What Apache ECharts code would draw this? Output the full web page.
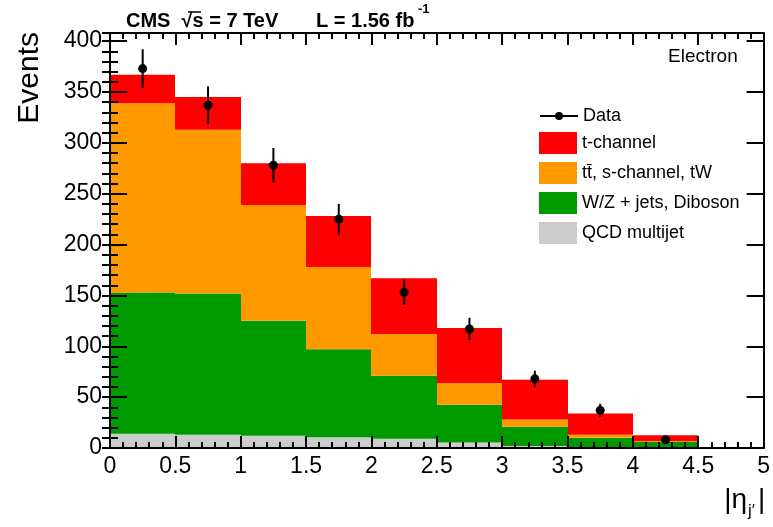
<!DOCTYPE html>
<html><head><meta charset="utf-8">
<script src="https://cdn.jsdelivr.net/npm/echarts@6/dist/echarts.min.js"></script>
<style>html,body{margin:0;padding:0;background:#fff}#c{width:773px;height:527px}</style>
</head><body><div id="c"></div>
<script>
// ---- data ----
const binEdges = [0, 0.5, 1, 1.5, 2, 2.5, 3, 3.5, 4, 4.5, 5];
const qcdMultijet = [14, 13, 12, 10.5, 9, 5.5, 2, 1, 0.5, 0];
const wzJetsDiboson = [139, 139, 113, 86.5, 62, 37, 19, 9, 5.5, 0];
const ttbarSchanTW = [186, 161, 114, 81, 41, 21.5, 7, 3, 1, 0];
const tChannel = [28, 32, 41, 50, 55, 54, 39, 21, 5.5, 0];
const dataX = [0.25, 0.75, 1.25, 1.75, 2.25, 2.75, 3.25, 3.75, 4.25];
const dataY = [373, 337, 278, 225, 153, 117, 68, 37, 8];
const dataErr = [19, 18.5, 17, 15, 12.5, 11, 8, 6.5, 3];
const seriesNames = ['QCD multijet', 'W/Z + jets, Diboson', 't\u0074\u0304, s-channel, tW', 't-channel'];
const seriesColors = ['#cccccc', '#009900', '#ff9900', '#ff0000'];
const legendOrder = ['t-channel', 't\u0074\u0304, s-channel, tW', 'W/Z + jets, Diboson', 'QCD multijet'];

const FONT = "'Liberation Sans', Arial, Helvetica, sans-serif";
const chart = echarts.init(document.getElementById('c'), null, {renderer: 'canvas'});

const components = [qcdMultijet, wzJetsDiboson, ttbarSchanTW, tChannel];
const cum = new Array(binEdges.length - 1).fill(0);
const stackSeries = components.map((vals, k) => {
  const d = vals.map((v, i) => {
    const bottom = cum[i];
    cum[i] += v;
    return [binEdges[i], binEdges[i + 1], bottom, cum[i]];
  });
  return {
    type: 'custom', name: seriesNames[k], z: 2 + k * 0.01,
    itemStyle: {color: seriesColors[k]},
    encode: {x: [0, 1], y: [2, 3]},
    renderItem: function (params, api) {
      if (api.value(3) - api.value(2) <= 0) return null;
      const p0 = api.coord([api.value(0), api.value(3)]);
      const p1 = api.coord([api.value(1), api.value(2)]);
      const x0 = Math.round(p0[0]), x1 = Math.round(p1[0]);
      return {type: 'rect', shape: {x: x0, y: p0[1], width: x1 - x0, height: p1[1] - p0[1]},
              style: {fill: seriesColors[k]}};
    },
    data: d
  };
});

const errSeries = {
  type: 'custom', name: 'DataErr', z: 5,
  encode: {x: 0, y: 1},
  renderItem: function (params, api) {
    const x = api.value(0), y = api.value(1), e = api.value(2);
    const a = api.coord([x, y - e]);
    const b = api.coord([x, y + e]);
    return {type: 'line', shape: {x1: a[0], y1: a[1], x2: b[0], y2: b[1]},
            style: {stroke: '#000', lineWidth: 2}};
  },
  data: dataX.map((x, i) => [x, dataY[i], dataErr[i]])
};

const dataSeries = {
  type: 'line', name: 'Data', z: 6,
  symbol: 'circle', symbolSize: 9,
  itemStyle: {color: '#000'},
  lineStyle: {opacity: 0, width: 0},
  silent: true, animation: false,
  data: dataX.map((x, i) => [x, dataY[i]])
};

const yMax = 408;
const axisCommon = {
  type: 'value', z: 10, splitLine: {show: false},
  axisLine: {show: true, onZero: false, lineStyle: {color: '#000', width: 2}}
};
const tickStyle = {color: '#000', width: 2};

const option = {
  animation: false,
  backgroundColor: '#fff',
  grid: {left: 110, right: 9, top: 33, bottom: 79},
  xAxis: [
    Object.assign({}, axisCommon, {
      position: 'bottom', min: 0, max: 5, interval: 0.5,
      axisTick: {show: true, inside: true, length: 12, lineStyle: tickStyle},
      minorTick: {show: true, splitNumber: 5, length: 6, lineStyle: tickStyle},
      axisLabel: {show: true, color: '#000', fontSize: 23, fontFamily: FONT, margin: 7}
    }),
    Object.assign({}, axisCommon, {
      position: 'top', min: 0, max: 5, interval: 0.5,
      axisTick: {show: true, inside: true, length: 12, lineStyle: tickStyle},
      minorTick: {show: true, splitNumber: 5, length: 6, lineStyle: tickStyle},
      axisLabel: {show: false}
    })
  ],
  yAxis: [
    Object.assign({}, axisCommon, {
      position: 'left', min: 0, max: yMax, interval: 50,
      axisTick: {show: true, inside: true, length: 17, lineStyle: tickStyle},
      axisLabel: {show: true, color: '#000', fontSize: 23, fontFamily: FONT, margin: 8,
                  formatter: v => (v % 50 === 0 ? String(v) : '')}
    }),
    Object.assign({}, axisCommon, {
      position: 'left', min: 0, max: yMax, interval: 10,
      axisLine: {show: false},
      axisTick: {show: true, inside: true, length: 8, lineStyle: tickStyle},
      axisLabel: {show: false}
    }),
    Object.assign({}, axisCommon, {
      position: 'right', min: 0, max: yMax, interval: 50,
      axisTick: {show: true, inside: true, length: 17, lineStyle: tickStyle},
      axisLabel: {show: false}
    }),
    Object.assign({}, axisCommon, {
      position: 'right', min: 0, max: yMax, interval: 10,
      axisLine: {show: false},
      axisTick: {show: true, inside: true, length: 8, lineStyle: tickStyle},
      axisLabel: {show: false}
    })
  ],
  legend: [
    {
      data: ['Data'], left: 534, top: 102, orient: 'vertical',
      itemWidth: 38, itemHeight: 10, itemGap: 8,
      lineStyle: {color: '#000', width: 2, opacity: 1},
      itemStyle: {color: '#000'},
      textStyle: {fontSize: 18, fontFamily: FONT, color: '#000'},
      selectedMode: false
    },
    {
      data: legendOrder, left: 534, top: 127, orient: 'vertical', icon: 'rect',
      itemWidth: 38, itemHeight: 22, itemGap: 8,
      textStyle: {fontSize: 18, fontFamily: FONT, color: '#000'},
      selectedMode: false
    }
  ],
  graphic: [
    {type: 'text', x: 126, y: 21, style: {text: 'CMS  \u221As = 7 TeV', fontSize: 20, fontWeight: 'bold', fontFamily: FONT, fill: '#000', align: 'left', verticalAlign: 'middle'}},
    {type: 'line', shape: {x1: 188, y1: 12, x2: 201, y2: 12}, style: {stroke: '#000', lineWidth: 1.5}},
    {type: 'text', x: 316, y: 21, style: {text: 'L = 1.56 fb', fontSize: 20, fontWeight: 'bold', fontFamily: FONT, fill: '#000', align: 'left', verticalAlign: 'middle'}},
    {type: 'text', x: 418, y: 9, style: {text: '-1', fontSize: 13, fontWeight: 'bold', fontFamily: FONT, fill: '#000', align: 'left', verticalAlign: 'middle'}},
    {type: 'text', x: 668, y: 57, style: {text: 'Electron', fontSize: 19, fontFamily: FONT, fill: '#000', align: 'left', verticalAlign: 'middle'}},
    {type: 'text', x: 30, y: 32, rotation: Math.PI / 2, style: {text: 'Events', fontSize: 30, fontFamily: FONT, fill: '#000', align: 'right', verticalAlign: 'middle'}},
    {type: 'text', x: 747, y: 500, style: {text: '|\u03B7', fontSize: 28, fontFamily: FONT, fill: '#000', align: 'right', verticalAlign: 'middle'}},
    {type: 'text', x: 748, y: 511, style: {text: 'j\u2032', fontSize: 17, fontFamily: FONT, fill: '#000', align: 'left', verticalAlign: 'middle'}},
    {type: 'text', x: 758, y: 500, style: {text: '|', fontSize: 28, fontFamily: FONT, fill: '#000', align: 'left', verticalAlign: 'middle'}}
  ],
  series: stackSeries.concat([errSeries, dataSeries])
};
chart.setOption(option);
</script>
</body></html>
